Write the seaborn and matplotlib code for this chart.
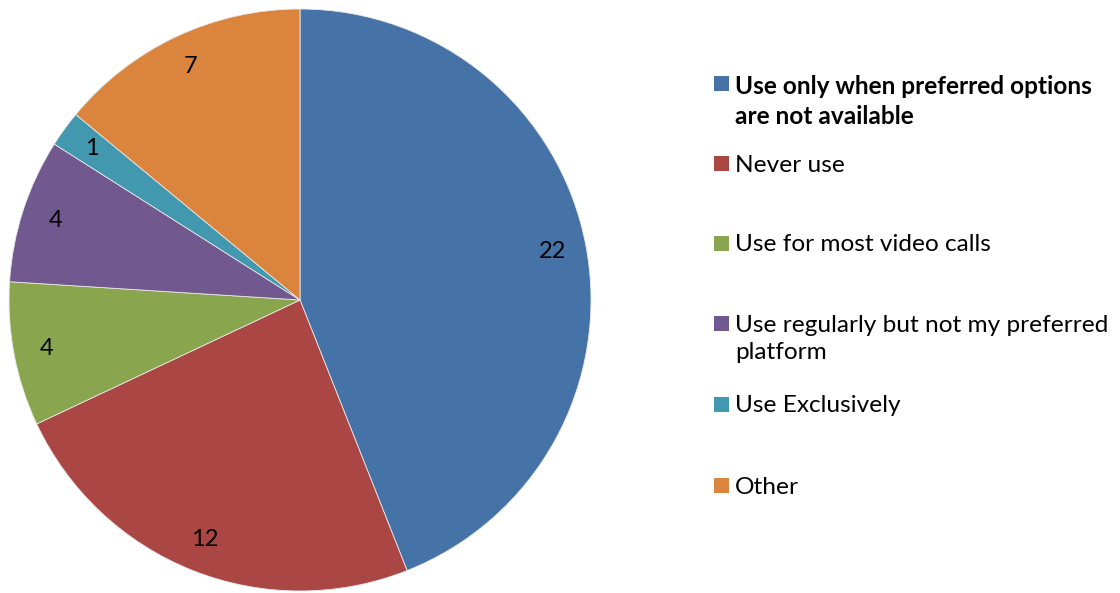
import matplotlib
matplotlib.use("Agg")
import matplotlib.pyplot as plt
from matplotlib.patches import Rectangle
import seaborn as sns

categories = [
    "Use only when preferred options\nare not available",
    "Never use",
    "Use for most video calls",
    "Use regularly but not my preferred\nplatform",
    "Use Exclusively",
    "Other",
]
counts = [22, 12, 4, 4, 1, 7]
colors = ["#4572A7", "#AA4643", "#89A54E", "#71588F", "#4198AF", "#DB843D"]

sns.set_theme(style="white")
plt.rcParams["font.family"] = ["Lato", "DejaVu Sans"]

W, H = 1120, 593
fig = plt.figure(figsize=(W / 100, H / 100), dpi=100)
fig.patch.set_facecolor("white")

cx, cy, r = 300, 300, 291
ax = fig.add_axes([(cx - r) / W, (H - cy - r) / H, 2 * r / W, 2 * r / H])
wedges, texts = ax.pie(
    counts,
    colors=sns.color_palette(colors),
    startangle=90,
    counterclock=False,
    labels=[str(c) for c in counts],
    labeldistance=0.885,
    wedgeprops=dict(edgecolor="#e8e8e8", linewidth=0.6),
    textprops=dict(fontsize=17, color="black", ha="center", va="center"),
)
ax.set_xlim(-1, 1)
ax.set_ylim(-1, 1)
ax.set_aspect("equal")
ax.axis("off")

# legend drawn as colored squares with labels on the right
marker_y = [83, 163, 243, 323, 404, 485]
sq = 15
for label, col, y in zip(categories, colors, marker_y):
    fig.patches.append(Rectangle((714 / W, (H - y - sq / 2) / H), sq / W, sq / H,
                                 transform=fig.transFigure, facecolor=col,
                                 edgecolor="none"))
    bold = label.startswith("Use only")
    fig.text(735 / W, (H - y + 8.5) / H, label, fontsize=17.6,
             fontweight="bold" if bold else "normal",
             va="top", ha="left", linespacing=1.38, color="black")

fig.savefig("out.png", dpi=100, facecolor="white")
